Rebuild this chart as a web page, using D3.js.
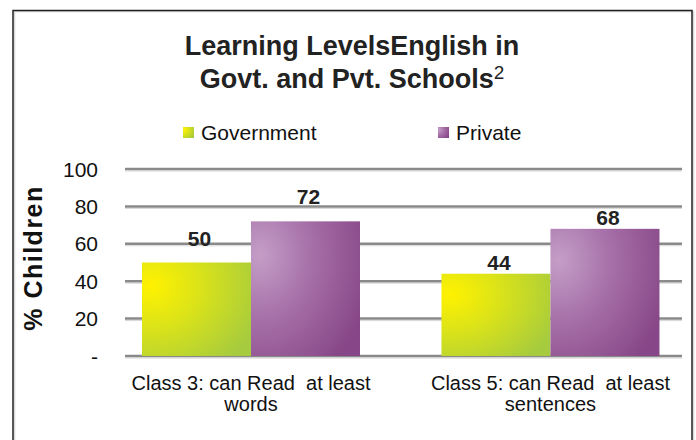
<!DOCTYPE html>
<html lang="en">
<head>
<meta charset="utf-8">
<title>Learning Levels English</title>
<style>
	body{
		margin: 0;
		padding: 0;
		background: #fff;
		font-family: "Liberation Sans", Arial, sans-serif;
		overflow: hidden;
	}
	svg{
		display: block;
	}
	.grid line{
		stroke: #8a8a8a;
		stroke-width: 2.5px;
	}
	.grid line.shade{
		stroke: #d6d6d6;
		stroke-width: 1px;
	}
	.tick-label{
		font-size: 21px;
		fill: #111;
	}
	.cat-label{
		font-size: 20px;
		fill: #111;
		white-space: pre;
	}
	.value{
		font-size: 21px;
		font-weight: bold;
		fill: #222;
	}
</style>
</head>
<body>
<svg id="chart" width="696" height="440"></svg>
<script src="https://cdnjs.cloudflare.com/ajax/libs/d3/7.8.5/d3.min.js"></script>
<script>
	// data
	var categories = ["Class 3: can Read  at least|words", "Class 5: can Read  at least|sentences"],
		series = ["Government", "Private"],
		government = [50, 44],
		privateSch = [72, 68],
		yTicks = [0, 20, 40, 60, 80, 100],
		yTickLabels = ["-", "20", "40", "60", "80", "100"];

	var svg = d3.select('#chart'),
		width = 696,
		height = 440,
		plotLeft = 125,
		plotRight = 682,
		plotTop = 169,
		plotBottom = 356,
		labelLift = [17, 4];

	var values = [government, privateSch];

	// gradients for the bars
	var defs = svg.append('defs');
	var grads = [
		{id: 'gGov', c0: '#fff200', c1: '#d9e21a', c2: '#a6cb3e'},
		{id: 'gPvt', c0: '#c49ec7', c1: '#a670a8', c2: '#874687'}
	];
	grads.forEach(function (g) {
		var rg = defs.append('radialGradient')
			.attr('id', g.id)
			.attr('cx', 0.08).attr('cy', 0.25)
			.attr('fx', 0.08).attr('fy', 0.25)
			.attr('r', 1.05);
		rg.append('stop').attr('offset', '0%').attr('stop-color', g.c0);
		rg.append('stop').attr('offset', '45%').attr('stop-color', g.c1);
		rg.append('stop').attr('offset', '100%').attr('stop-color', g.c2);
	});

	// frame
	svg.append('rect')
		.attr('x', 14.5).attr('y', 11.5)
		.attr('width', 679).attr('height', 460)
		.attr('fill', 'none')
		.attr('stroke', '#d8d8d8')
		.attr('stroke-width', 1.5);
	svg.append('rect')
		.attr('x', 13).attr('y', 10.5)
		.attr('width', 679).attr('height', 460)
		.attr('fill', 'none')
		.attr('stroke', '#222')
		.attr('stroke-width', 1.5);

	// title
	var title = svg.append('text')
		.attr('text-anchor', 'middle')
		.style('font-size', '27px')
		.style('font-weight', 'bold')
		.style('fill', '#222');
	title.append('tspan').attr('x', 352).attr('y', 55).text('Learning LevelsEnglish in');
	var line2 = title.append('tspan').attr('x', 352).attr('y', 88).text('Govt. and Pvt. Schools');
	title.append('tspan')
		.attr('dy', -9)
		.style('font-weight', 'normal')
		.style('font-size', '19px')
		.text('2');

	// scales
	var y = d3.scaleLinear().domain([0, 100]).range([plotBottom, plotTop]);

	var x0 = d3.scaleBand()
		.domain(categories)
		.range([plotLeft, plotRight])
		.paddingInner(0.272)
		.paddingOuter(0.066)
		.align(0.43);

	var x1 = d3.scaleBand()
		.domain(series)
		.range([0, x0.bandwidth()]);

	var color = d3.scaleOrdinal().domain(series).range(['url(#gGov)', 'url(#gPvt)']);

	// gridlines
	var grid = svg.append('g').attr('class', 'grid');
	grid.selectAll('line.shade').data(yTicks).enter().append('line')
		.attr('class', 'shade')
		.attr('x1', plotLeft).attr('x2', plotRight)
		.attr('y1', function (d) { return y(d) + 2; })
		.attr('y2', function (d) { return y(d) + 2; });
	grid.selectAll('line.main').data(yTicks).enter().append('line')
		.attr('class', 'main')
		.attr('x1', plotLeft).attr('x2', plotRight)
		.attr('y1', function (d) { return y(d); })
		.attr('y2', function (d) { return y(d); });

	// y tick labels
	svg.selectAll('.tick-label').data(yTicks).enter().append('text')
		.attr('class', 'tick-label')
		.attr('x', 98)
		.attr('y', function (d) { return y(d); })
		.attr('dy', '0.36em')
		.attr('text-anchor', 'end')
		.text(function (d, i) { return yTickLabels[i]; });

	// y axis title
	svg.append('text')
		.attr('transform', 'translate(42,258) rotate(-90)')
		.attr('text-anchor', 'middle')
		.style('font-size', '25px')
		.style('font-weight', 'bold')
		.style('letter-spacing', '1.5px')
		.style('fill', '#111')
		.text('% Children');

	// bars
	var groups = svg.selectAll('.cat').data(categories).enter().append('g')
		.attr('class', 'cat')
		.attr('transform', function (d) { return 'translate(' + x0(d) + ',0)'; });

	groups.selectAll('rect').data(function (d, ci) {
		return series.map(function (s, si) { return {s: s, v: values[si][ci], ci: ci}; });
	}).enter().append('rect')
		.attr('x', function (d) { return x1(d.s); })
		.attr('y', function (d) { return y(d.v); })
		.attr('width', x1.bandwidth())
		.attr('height', function (d) { return y(0) - y(d.v); })
		.attr('fill', function (d) { return color(d.s); });

	groups.selectAll('.value').data(function (d, ci) {
		return series.map(function (s, si) { return {s: s, v: values[si][ci], ci: ci}; });
	}).enter().append('text')
		.attr('class', 'value')
		.attr('x', function (d) { return x1(d.s) + x1.bandwidth() / 2 + 3; })
		.attr('y', function (d) { return y(d.v) - labelLift[d.ci]; })
		.attr('text-anchor', 'middle')
		.text(function (d) { return d.v; });

	// category labels, two lines each
	groups.each(function (d) {
		var parts = d.split('|'),
			t = d3.select(this).append('text')
				.attr('class', 'cat-label')
				.attr('text-anchor', 'middle');
		parts.forEach(function (p, i) {
			t.append('tspan')
				.attr('x', x0.bandwidth() / 2)
				.attr('y', 390 + i * 21)
				.text(p);
		});
	});

	// legend
	var legendX = [183, 438];
	var legend = svg.selectAll('.legend').data(series).enter().append('g')
		.attr('class', 'legend')
		.attr('transform', function (d, i) { return 'translate(' + legendX[i] + ',127)'; });
	legend.append('rect')
		.attr('width', 11).attr('height', 11)
		.attr('fill', function (d) { return color(d); });
	legend.append('text')
		.attr('x', 18)
		.attr('y', 13)
		.style('font-size', '21px')
		.style('fill', '#111')
		.text(function (d) { return d; });
</script>
</body>
</html>
